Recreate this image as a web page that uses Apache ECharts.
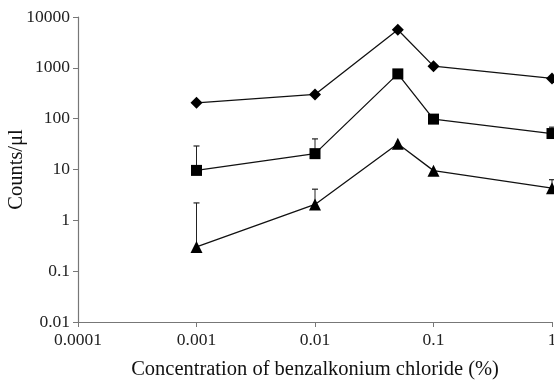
<!DOCTYPE html>
<html>
<head>
<meta charset="utf-8">
<script src="https://cdn.jsdelivr.net/npm/echarts@6/dist/echarts.min.js"></script>
<style>html,body{margin:0;padding:0;background:#fff;}#c{width:554px;height:380px;}</style>
</head>
<body>
<div id="c"></div>
<script>
var concentrations = [0.001, 0.01, 0.05, 0.1, 1];
var diamondValues = [205, 300, 5600, 1080, 620];
var squareValues = [9.6, 20.5, 760, 98, 51];
var triangleValues = [0.3, 2.05, 32, 9.5, 4.3];
var squareErrTop = [29, 40, null, null, 68];
var triangleErrTop = [2.2, 4.1, null, null, 6.3];
var xTickLabels = {'-4': '0.0001', '-3': '0.001', '-2': '0.01', '-1': '0.1', '0': '1'};
var yTickLabels = {'-2': '0.01', '-1': '0.1', '0': '1', '1': '10', '2': '100', '3': '1000', '4': '10000'};

function pairs(vals) { return concentrations.map(function (c, i) { return [c, vals[i]]; }); }
function errPairs(vals, tops) {
  var out = [];
  concentrations.forEach(function (c, i) { if (tops[i] != null) out.push([c, vals[i], tops[i]]); });
  return out;
}
function decadeKey(v) { return String(Math.round(Math.log10(v))); }

var font = 'Liberation Serif';
var lineStyle = { color: '#111', width: 1.3 };

function errSeries(data) {
  return {
    type: 'custom',
    data: data,
    z: 1,
    renderItem: function (params, api) {
      var x = api.value(0);
      var p0 = api.coord([x, api.value(1)]);
      var p1 = api.coord([x, api.value(2)]);
      return {
        type: 'group',
        children: [
          { type: 'line', shape: { x1: p0[0], y1: p0[1], x2: p1[0], y2: p1[1] }, style: { stroke: '#222', lineWidth: 1 } },
          { type: 'line', shape: { x1: p1[0] - 3, y1: p1[1], x2: p1[0] + 3, y2: p1[1] }, style: { stroke: '#222', lineWidth: 1.2 } }
        ]
      };
    }
  };
}

var chart = echarts.init(document.getElementById('c'));
chart.setOption({
  animation: false,
  backgroundColor: '#fff',
  grid: { left: 78, right: 2, top: 17, bottom: 58, containLabel: false, outerBoundsMode: 'none' },
  xAxis: {
    type: 'log', logBase: 10, min: 0.0001, max: 1,
    name: 'Concentration of benzalkonium chloride (%)',
    nameLocation: 'middle', nameGap: 37, nameMoveOverlap: false,
    nameTextStyle: { fontFamily: font, fontSize: 20.5, color: '#111' },
    axisLine: { lineStyle: { color: '#777', width: 1.2 } },
    axisTick: { show: true, length: 5, lineStyle: { color: '#777' } },
    minorTick: { show: false },
    splitLine: { show: false },
    axisLabel: {
      fontFamily: font, fontSize: 17.5, color: '#222', margin: 9, hideOverlap: false,
      formatter: function (v) { return xTickLabels[decadeKey(v)] || ''; }
    }
  },
  yAxis: {
    type: 'log', logBase: 10, min: 0.01, max: 10000,
    name: 'Counts/\u03bcl',
    nameLocation: 'middle', nameGap: 51, nameRotate: 90, nameMoveOverlap: false,
    nameTextStyle: { fontFamily: font, fontSize: 20.5, color: '#111' },
    axisLine: { show: true, lineStyle: { color: '#777', width: 1.2 } },
    axisTick: { show: true, length: 5, lineStyle: { color: '#777' } },
    splitLine: { show: false },
    axisLabel: {
      fontFamily: font, fontSize: 17.5, color: '#222', margin: 8, hideOverlap: false,
      formatter: function (v) { return yTickLabels[decadeKey(v)] || ''; }
    }
  },
  series: [
    errSeries(errPairs(squareValues, squareErrTop)),
    errSeries(errPairs(triangleValues, triangleErrTop)),
    { type: 'line', data: pairs(diamondValues), symbol: 'diamond', symbolSize: 12, z: 3,
      itemStyle: { color: '#000' }, lineStyle: lineStyle },
    { type: 'line', data: pairs(squareValues), symbol: 'rect', symbolSize: 11, z: 3,
      itemStyle: { color: '#000' }, lineStyle: lineStyle },
    { type: 'line', data: pairs(triangleValues), symbol: 'triangle', symbolSize: 12, z: 3,
      itemStyle: { color: '#000' }, lineStyle: lineStyle }
  ]
});
</script>
</body>
</html>
